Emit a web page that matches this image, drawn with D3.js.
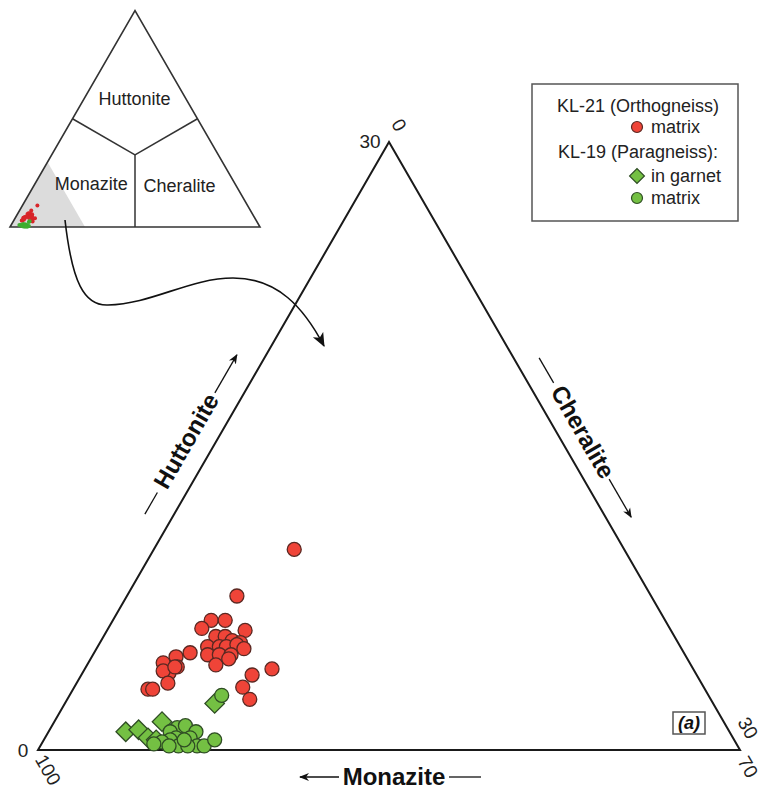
<!DOCTYPE html>
<html>
<head>
<meta charset="utf-8">
<script src="https://cdn.jsdelivr.net/npm/d3@7"></script>
<style>
  html, body { margin: 0; padding: 0; background: #fff; }
  svg { display: block; font-family: "Liberation Sans", Arial, sans-serif; }
</style>
</head>
<body>
<svg id="chart" width="764" height="789"></svg>
<script>
// Compositions as [Huttonite %, Cheralite %]; Monazite = 100 - both.
const kl21Matrix = [
  [9.9, 6.0], [7.6, 4.7], [6.4, 4.2], [6.4, 4.8], [6.0, 4.0], [5.9, 5.9],
  [5.6, 4.8], [5.6, 5.2], [5.4, 5.6], [5.3, 6.0], [5.1, 4.7], [5.1, 5.2],
  [5.1, 5.5], [5.2, 5.9], [5.0, 6.3], [4.7, 4.9], [4.7, 5.4], [4.7, 5.9],
  [4.8, 4.1], [4.6, 3.6], [4.5, 5.9], [4.2, 5.5], [4.1, 3.9], [4.3, 3.2],
  [3.8, 3.7], [3.9, 3.4], [3.7, 7.3], [4.0, 8.0], [3.0, 3.2], [3.0, 3.4],
  [3.3, 3.9], [3.1, 7.2], [2.5, 7.8], [4.1, 3.8]
];
const kl19Garnet = [
  [0.9, 3.3], [1.0, 3.8], [1.4, 4.6], [0.6, 4.4], [2.3, 6.4], [0.5, 4.8]
];
const kl19Matrix = [
  [2.7, 6.5], [1.1, 5.4], [1.2, 5.7], [0.9, 6.3], [0.9, 5.2], [0.6, 5.6],
  [0.6, 6.2], [0.5, 5.4], [0.4, 5.1], [0.3, 4.8], [0.2, 5.9], [0.2, 6.7],
  [0.2, 7.0], [0.5, 7.3], [0.2, 6.3], [0.2, 5.5], [0.5, 6.0]
];

// Tick labels at the triangle corners (zoomed Monazite-rich corner)
const huttoniteTicks = [0, 30];
const cheraliteTicks = [0, 30];
const monaziteTicks = [100, 70];

const legendGroups = ["KL-21 (Orthogneiss)", "KL-19 (Paragneiss):"];
const legendItems = ["matrix", "in garnet", "matrix"];

const RED = "#ef4438", RED_STROKE = "#5a2822";
const GREEN = "#74c043", GREEN_STROKE = "#2f4d24";
const SQ3 = Math.sqrt(3) / 2;

const svg = d3.select("#chart");
const defs = svg.append("defs");
defs.append("marker").attr("id", "head").attr("viewBox", "0 0 10 10")
  .attr("refX", 9).attr("refY", 5).attr("markerWidth", 10).attr("markerHeight", 10)
  .attr("markerUnits", "userSpaceOnUse").attr("orient", "auto")
  .append("path").attr("d", "M0,1 L10,5 L0,9 L3,5 Z").attr("fill", "#111");
defs.append("marker").attr("id", "bighead").attr("viewBox", "0 0 12 12")
  .attr("refX", 11).attr("refY", 6).attr("markerWidth", 14).attr("markerHeight", 14)
  .attr("markerUnits", "userSpaceOnUse").attr("orient", "auto")
  .append("path").attr("d", "M0,1 L12,6 L0,11 L3,6 Z").attr("fill", "#111");

// Ternary frame helper: h and c are converted to fractions through linear scales
function ternary(x0, y0, side, max) {
  const h = d3.scaleLinear().domain([0, max]).range([0, 1]);
  const c = d3.scaleLinear().domain([0, max]).range([0, 1]);
  const p = (hv, cv) => [x0 + c(cv) * side + h(hv) * side / 2, y0 - h(hv) * side * SQ3];
  return { p, x0, y0, side,
    BL: [x0, y0], BR: [x0 + side, y0], AP: [x0 + side / 2, y0 - side * SQ3] };
}

const main = ternary(38, 750, 702, 30);
const inset = ternary(10, 227, 250, 100);

// ---------- Inset: full ternary diagram ----------
const gi = svg.append("g");
const zoomArea = [inset.BL, inset.p(30, 0), inset.p(0, 30)];
gi.append("path").attr("d", d3.line()(zoomArea) + "Z").attr("fill", "#dcdcdc");
const cen = inset.p(100 / 3, 100 / 3);
[inset.p(50, 0), inset.p(50, 50), inset.p(0, 50)].forEach(m => {
  gi.append("line").attr("x1", cen[0]).attr("y1", cen[1]).attr("x2", m[0]).attr("y2", m[1])
    .attr("stroke", "#333").attr("stroke-width", 1.5);
});
gi.append("path").attr("d", d3.line()([inset.BL, inset.BR, inset.AP]) + "Z")
  .attr("fill", "none").attr("stroke", "#333").attr("stroke-width", 1.6).attr("stroke-linejoin", "miter");
gi.selectAll("text.field").data([
  ["Huttonite", inset.p(56.4, 21.6)], ["Monazite", inset.p(17, 24)], ["Cheralite", inset.p(16.2, 59.7)]
]).join("text").attr("class", "field")
  .attr("x", d => d[1][0]).attr("y", d => d[1][1])
  .attr("text-anchor", "middle").attr("font-size", 18).attr("fill", "#222").text(d => d[0]);
gi.selectAll("circle.r").data(kl21Matrix).join("circle").attr("class", "r")
  .attr("cx", d => inset.p(d[0], d[1])[0]).attr("cy", d => inset.p(d[0], d[1])[1])
  .attr("r", 2).attr("fill", "#d8252a");
gi.selectAll("circle.g").data(kl19Garnet.concat(kl19Matrix)).join("circle").attr("class", "g")
  .attr("cx", d => inset.p(d[0], d[1])[0]).attr("cy", d => inset.p(d[0], d[1])[1])
  .attr("r", 2).attr("fill", "#3fae2f");

// Curved arrow linking the shaded corner to the enlarged diagram
svg.append("path")
  .attr("d", "M65,220 C72,282 84,306 108,305 C152,304 190,278 233,278 C278,278 304,308 324,346")
  .attr("fill", "none").attr("stroke", "#111").attr("stroke-width", 1.6)
  .attr("marker-end", "url(#bighead)");

// ---------- Main enlarged ternary ----------
const gm = svg.append("g");
gm.append("path").attr("d", d3.line()([main.BL, main.BR, main.AP]) + "Z")
  .attr("fill", "none").attr("stroke", "#1a1a1a").attr("stroke-width", 2);

// Corner tick labels
const tickFont = 19;
function tick(txt, pt, dx, dy, rot) {
  gm.append("text").attr("transform", `translate(${pt[0] + dx},${pt[1] + dy}) rotate(${rot})`)
    .attr("text-anchor", "middle").attr("dominant-baseline", "central")
    .attr("font-size", tickFont).attr("fill", "#222").text(txt);
}
tick(huttoniteTicks[1], main.AP, -19, -1, 0);
tick(huttoniteTicks[0], main.BL, -15, 0, 0);
tick(cheraliteTicks[0], main.AP, 10, -17, 60);
tick(cheraliteTicks[1], main.BR, 8, -22, 60);
tick(monaziteTicks[0], main.BL, 10, 20, 60);
tick(monaziteTicks[1], main.BR, 8, 17, 60);

// Axis titles with direction arrows
function axisTitle(txt, cx, cy, rot, textOff, before, after, arrowAtEnd) {
  const g = gm.append("g").attr("transform", `translate(${cx},${cy}) rotate(${rot})`);
  g.append("text").attr("x", textOff).attr("y", 0).attr("text-anchor", "middle")
    .attr("dominant-baseline", "central").attr("font-size", 24).attr("font-weight", "bold")
    .attr("fill", "#111").text(txt);
  const l1 = g.append("line").attr("x1", before[0]).attr("x2", before[1]).attr("y1", 1).attr("y2", 1)
    .attr("stroke", "#111").attr("stroke-width", 1.3);
  const l2 = g.append("line").attr("x1", after[0]).attr("x2", after[1]).attr("y1", 1).attr("y2", 1)
    .attr("stroke", "#111").attr("stroke-width", 1.3);
  if (arrowAtEnd) l2.attr("marker-end", "url(#head)");
  else l1.attr("x1", before[1]).attr("x2", before[0]).attr("marker-end", "url(#head)");
}
axisTitle("Huttonite", 190, 434, -60, -8, [-92, -67], [48, 92], true);
axisTitle("Cheralite", 586, 437, 60, -6, [-92, -63], [48, 92], true);
axisTitle("Monazite", 394, 776, 0, 0, [-94, -55], [55, 87], false);

// Data points
const pos = d => main.p(d[0], d[1]);
gm.append("g").selectAll("circle").data(kl21Matrix).join("circle")
  .attr("cx", d => pos(d)[0]).attr("cy", d => pos(d)[1]).attr("r", 7)
  .attr("fill", RED).attr("stroke", RED_STROKE).attr("stroke-width", 1.3);
const diamond = d3.symbol().type(d3.symbolSquare).size(190);
gm.append("g").selectAll("path").data(kl19Garnet).join("path")
  .attr("transform", d => `translate(${pos(d)[0]},${pos(d)[1]}) rotate(45)`)
  .attr("d", diamond).attr("fill", GREEN).attr("stroke", GREEN_STROKE).attr("stroke-width", 1.3);
gm.append("g").selectAll("circle").data(kl19Matrix).join("circle")
  .attr("cx", d => pos(d)[0]).attr("cy", d => pos(d)[1]).attr("r", 7)
  .attr("fill", GREEN).attr("stroke", GREEN_STROKE).attr("stroke-width", 1.3);

// Panel tag
gm.append("rect").attr("x", 673).attr("y", 712).attr("width", 32).attr("height", 22)
  .attr("fill", "none").attr("stroke", "#555").attr("stroke-width", 1.5);
gm.append("text").attr("x", 689).attr("y", 723).attr("text-anchor", "middle")
  .attr("dominant-baseline", "central").attr("font-size", 18).attr("font-weight", "bold")
  .attr("font-style", "italic").attr("fill", "#111").text("(a)");

// ---------- Legend ----------
const lg = svg.append("g");
lg.append("rect").attr("x", 532).attr("y", 84).attr("width", 206).attr("height", 137)
  .attr("fill", "#fff").attr("stroke", "#555").attr("stroke-width", 1.5);
lg.append("text").attr("x", 638).attr("y", 112).attr("text-anchor", "middle")
  .attr("font-size", 18).attr("fill", "#222").text(legendGroups[0]);
lg.append("text").attr("x", 638).attr("y", 158).attr("text-anchor", "middle")
  .attr("font-size", 18).attr("fill", "#222").text(legendGroups[1]);
const itemY = [127, 176, 198];
lg.append("circle").attr("cx", 637).attr("cy", itemY[0]).attr("r", 5.5)
  .attr("fill", RED).attr("stroke", RED_STROKE).attr("stroke-width", 1.2);
lg.append("path").attr("transform", `translate(637,${itemY[1]}) rotate(45)`)
  .attr("d", d3.symbol().type(d3.symbolSquare).size(110))
  .attr("fill", GREEN).attr("stroke", GREEN_STROKE).attr("stroke-width", 1.2);
lg.append("circle").attr("cx", 637).attr("cy", itemY[2]).attr("r", 5.5)
  .attr("fill", GREEN).attr("stroke", GREEN_STROKE).attr("stroke-width", 1.2);
legendItems.forEach((t, i) => {
  lg.append("text").attr("x", 651).attr("y", itemY[i]).attr("dominant-baseline", "central")
    .attr("font-size", 18).attr("fill", "#222").text(t);
});
</script>
</body>
</html>
